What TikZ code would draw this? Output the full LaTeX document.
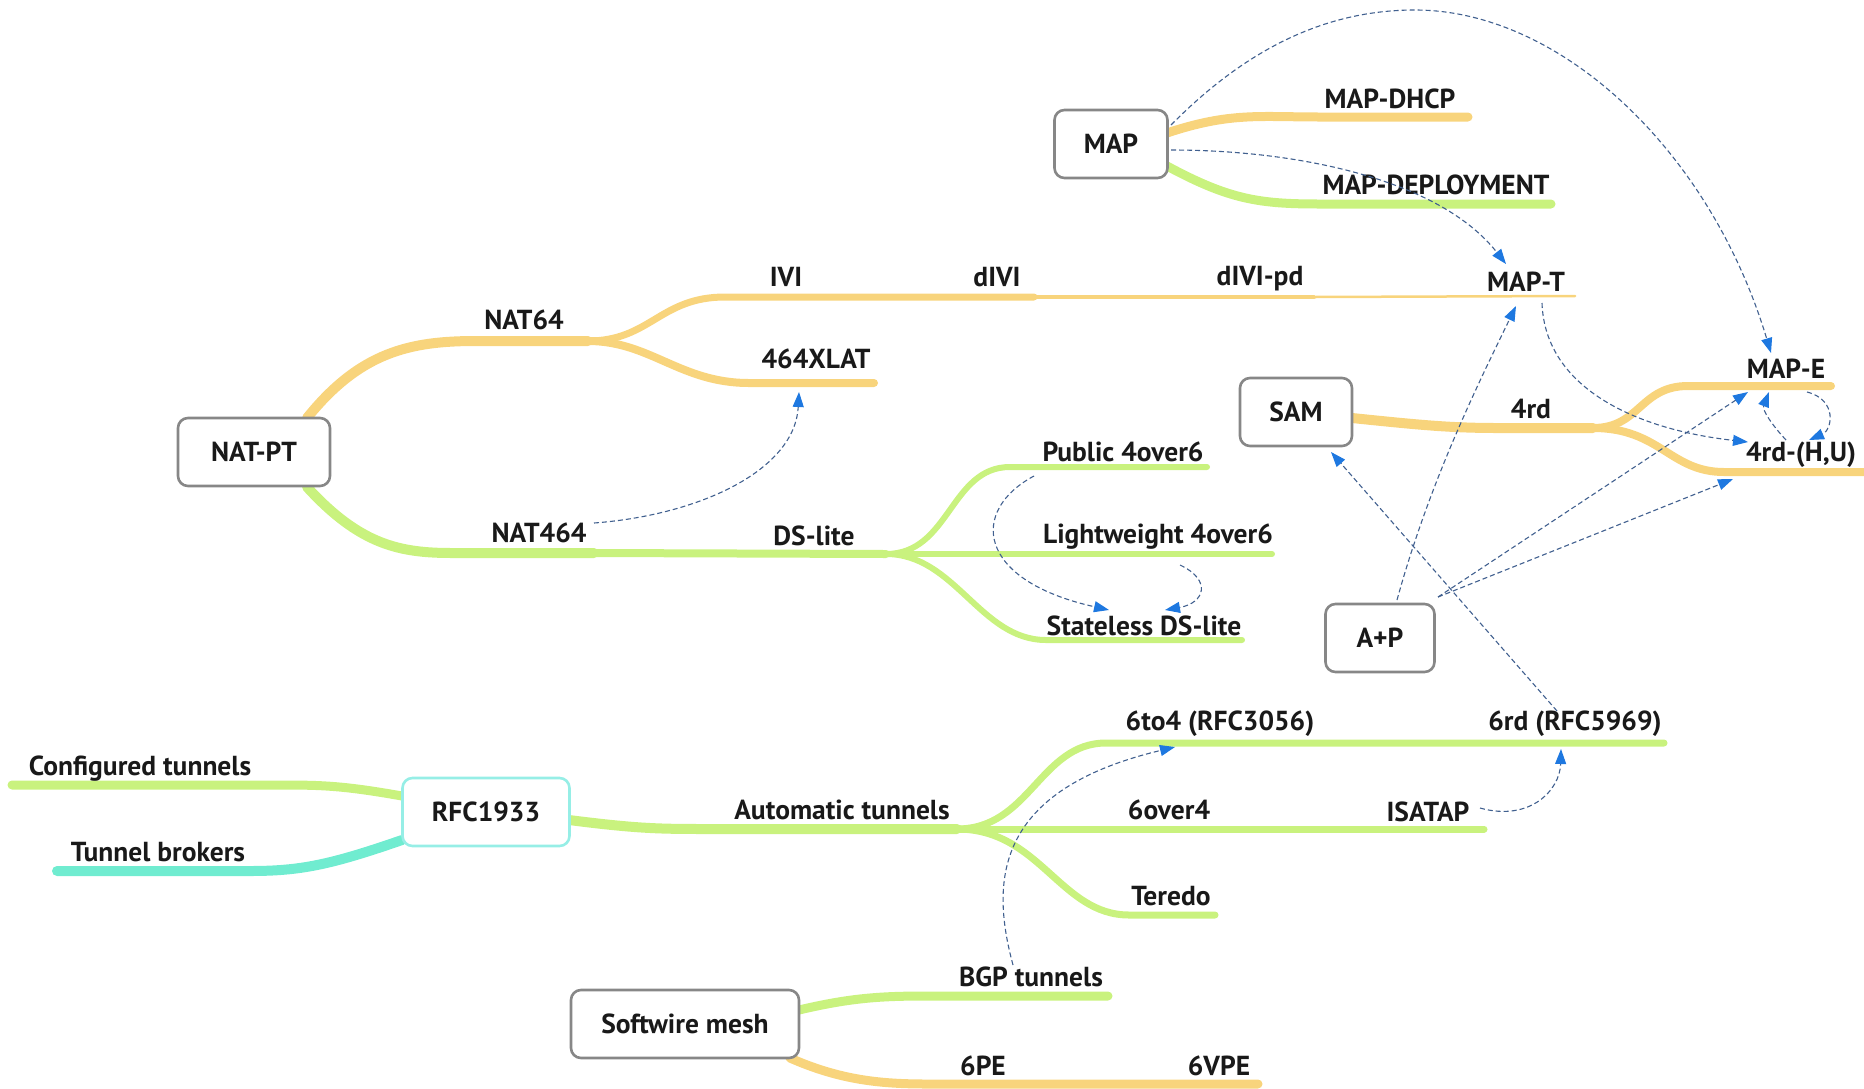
\documentclass[tikz,border=0pt]{standalone}
\usepackage{fontspec}
\setmainfont{PT Sans}
\usetikzlibrary{arrows.meta}
\definecolor{yel}{HTML}{F8D47C}
\definecolor{grn}{HTML}{C9F27E}
\definecolor{cyn}{HTML}{70ECD0}
\definecolor{boxgray}{HTML}{878787}
\definecolor{rfcbd}{HTML}{96EEE6}
\definecolor{dline}{HTML}{41608F}
\definecolor{ablue}{HTML}{1E78E0}
\begin{document}
\begin{tikzpicture}[x=1pt,y=-1pt,
  lbl/.style={font=\fontsize{27.5}{30}\selectfont\bfseries, inner sep=0pt, text=black!90},
  box/.style={lbl, draw=boxgray, line width=2.6pt, rounded corners=10pt, fill=white, minimum height=68pt},
  br/.style={line cap=round, line width=#1},
  dlink/.style={draw=dline, line width=1.1pt, dash pattern=on 5pt off 3pt, -{Triangle[length=15pt,width=11pt,color=ablue]}}]
\useasboundingbox (0,0) rectangle (1864,1088);

% ---------- branches ----------
% NAT-PT
\draw[br=10, yel] (307,418) .. controls (360,352) and (410,341) .. (476,341) -- (588,341);
\draw[br=7, yel] (588,341) .. controls (650,341) and (660,297) .. (725,297) -- (1034,297);
\draw[br=4, yel] (1034,297) -- (1314,297);
\draw[br=2.5, yel] (1314,297) -- (1575,296);
\draw[br=8, yel] (588,341) .. controls (650,341) and (680,383) .. (749,383) -- (874,383);
\draw[br=10, grn] (307,487) .. controls (360,545) and (400,553) .. (452,553) -- (594,553);
\draw[br=8, grn] (594,553) -- (886,554);
\draw[br=6, grn] (886,554) .. controls (950,554) and (950,467) .. (1010,467) -- (1207,467);
\draw[br=6, grn] (886,554) -- (1272,554);
\draw[br=6, grn] (886,554) .. controls (955,554) and (980,640) .. (1046,640) -- (1242,640);
% MAP
\draw[br=9, yel] (1167,133) .. controls (1230,112) and (1260,117) .. (1320,117) -- (1468,117);
\draw[br=9, grn] (1167,166) .. controls (1230,200) and (1260,204) .. (1320,204) -- (1551,204);
% SAM
\draw[br=10, yel] (1352,418) .. controls (1420,425) and (1450,428) .. (1498,428) -- (1593,428);
\draw[br=8, yel] (1593,428) .. controls (1640,428) and (1640,386) .. (1688,386) -- (1831,386);
\draw[br=8, yel] (1593,428) .. controls (1660,428) and (1670,472) .. (1724,472) -- (1864,472);
% RFC1933
\draw[br=9, grn] (402,796) .. controls (340,785) and (320,785) .. (273,785) -- (12,785);
\draw[br=10, cyn] (402,840) .. controls (330,865) and (300,871) .. (250,871) -- (57,871);
\draw[br=10, grn] (569,820) .. controls (640,829) and (660,829) .. (713,829) -- (957,829);
\draw[br=7, grn] (957,829) .. controls (1030,829) and (1040,743) .. (1106,743) -- (1664,743);
\draw[br=7, grn] (957,829) -- (1484,829);
\draw[br=7, grn] (957,829) .. controls (1040,829) and (1060,915) .. (1129,915) -- (1215,915);
% Softwire mesh
\draw[br=9, grn] (799,1010) .. controls (850,998) and (880,996) .. (927,996) -- (1108,996);
\draw[br=9, yel] (790,1058) .. controls (840,1080) and (880,1084) .. (927,1084) -- (1258,1084);

% ---------- boxes ----------
\node[box, minimum width=113pt] (map) at (1111,144) {MAP};
\node[box, minimum width=152pt] (natpt) at (254,452) {NAT-PT};
\node[box, minimum width=112pt] (sam) at (1296,412) {SAM};
\node[box, minimum width=109pt] (ap) at (1380,638) {A+P};
\node[box, draw=rfcbd, minimum width=167pt] (rfc) at (486,812) {RFC1933};
\node[box, minimum width=228pt] (sw) at (685,1024) {Softwire mesh};

% ---------- labels ----------
\node[lbl] (nat64) at (524,320) {NAT64};
\node[lbl] (ivi) at (786,277) {IVI};
\node[lbl] (divi) at (997,277) {dIVI};
\node[lbl] (divipd) at (1260,279) {dIVI-pd};
\node[lbl] (mapt) at (1526,282) {MAP-T};
\node[lbl] (xlat) at (816,359) {464XLAT};
\node[lbl] (nat464) at (539,533) {NAT464};
\node[lbl] (dslite) at (814,536) {DS-lite};
\node[lbl] (pub) at (1123,452) {Public 4over6};
\node[lbl] (lw) at (1158,537) {Lightweight 4over6};
\node[lbl] (sdl) at (1144,626) {Stateless DS-lite};
\node[lbl] (mapdhcp) at (1390,99) {MAP-DHCP};
\node[lbl] (mapdep) at (1436,185) {MAP-DEPLOYMENT};
\node[lbl] (fourrd) at (1531,409) {4rd};
\node[lbl] (mape) at (1786,369) {MAP-E};
\node[lbl] (fourhu) at (1801,455) {4rd-(H,U)};
\node[lbl] (conf) at (140,769) {Configured tunnels};
\node[lbl] (tb) at (158,852) {Tunnel brokers};
\node[lbl] (auto) at (842,810) {Automatic tunnels};
\node[lbl] (sixto4) at (1220,724) {6to4 (RFC3056)};
\node[lbl] (sixrd) at (1575,724) {6rd (RFC5969)};
\node[lbl] (sixover4) at (1169,810) {6over4};
\node[lbl] (isatap) at (1428,812) {ISATAP};
\node[lbl] (teredo) at (1171,896) {Teredo};
\node[lbl] (bgp) at (1031,977) {BGP tunnels};
\node[lbl] (sixpe) at (983,1066) {6PE};
\node[lbl] (sixvpe) at (1219,1066) {6VPE};

% ---------- arrow end points ----------
\coordinate (mapA) at (1171,125);
\coordinate (mapB) at (1171,150);
\coordinate (mapeTop) at (1771,353);
\coordinate (maptIn) at (1506,264);
\coordinate (natOut) at (594,523);
\coordinate (xlatIn) at (799,392);
\coordinate (pubOut) at (1034,476);
\coordinate (sdlInA) at (1109,610);
\coordinate (lwOut) at (1180,565);
\coordinate (sdlInB) at (1165,610);
\coordinate (apA) at (1397,600);
\coordinate (apB) at (1438,597);
\coordinate (maptBot) at (1516,306);
\coordinate (maptOut) at (1542,303);
\coordinate (huIn) at (1748,442);
\coordinate (mapeInA) at (1748,392);
\coordinate (huLine) at (1733,479);
\coordinate (sixrdOut) at (1557,711);
\coordinate (samIn) at (1331,452);
\coordinate (huOut) at (1786,440);
\coordinate (mapeInB) at (1769,392);
\coordinate (mapeOut) at (1807,392);
\coordinate (huInB) at (1809,440);
\coordinate (isaOut) at (1480,808);
\coordinate (sixrdIn) at (1561,749);
\coordinate (bgpOut) at (1013,965);
\coordinate (sixto4In) at (1175,747);

% ---------- dashed arrows ----------
\draw[dlink] (mapA) .. controls (1250,45) and (1330,10) .. (1415,10) .. controls (1560,10) and (1710,150) .. (mapeTop);
\draw[dlink] (mapB) .. controls (1300,150) and (1440,180) .. (maptIn);
\draw[dlink] (natOut) .. controls (700,515) and (795,470) .. (xlatIn);
\draw[dlink] (pubOut) .. controls (970,510) and (975,580) .. (sdlInA);
\draw[dlink] (lwOut) .. controls (1212,580) and (1205,603) .. (sdlInB);
\draw[dlink] (apA) .. controls (1430,480) and (1480,380) .. (maptBot);
\draw[dlink] (maptOut) .. controls (1545,390) and (1640,430) .. (huIn);
\draw[dlink] (apB) -- (mapeInA);
\draw[dlink] (apB) -- (huLine);
\draw[dlink] (sixrdOut) -- (samIn);
\draw[dlink] (huOut) .. controls (1772,425) and (1762,410) .. (mapeInB);
\draw[dlink] (mapeOut) .. controls (1838,400) and (1832,430) .. (huInB);
\draw[dlink] (isaOut) .. controls (1530,822) and (1560,790) .. (sixrdIn);
\draw[dlink] (bgpOut) .. controls (990,880) and (995,790) .. (sixto4In);
\end{tikzpicture}
\end{document}
